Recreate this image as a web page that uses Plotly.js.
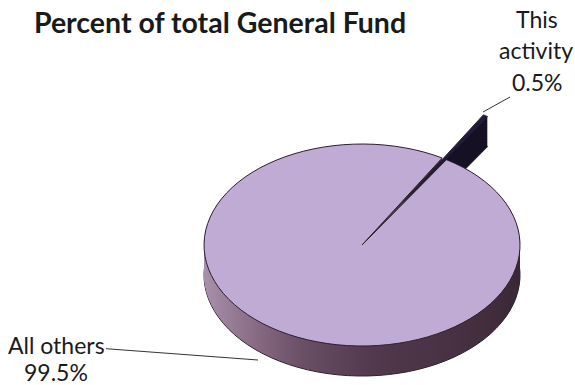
<!DOCTYPE html>
<html><head><meta charset="utf-8">
<script src="https://cdn.plot.ly/plotly-3.0.1.min.js"></script>
<style>html,body{margin:0;padding:0;background:#fff}#chart{width:575px;height:385px}</style>
</head><body><div id="chart"></div>
<script>
// ---- data ----
const labels = ['This activity', 'All others'];
const values = [0.5, 99.5];
const percentLabels = ['0.5%', '99.5%'];
const pulls = [0.5, 0];
const titleText = 'Percent of total General Fund';

// ---- styles ----
const topColors = ['#221b38', '#c0abd4'];
const sideColors = ['#151024', '#6a4f65'];
const depthSteps = [];
for (let d = 30; d >= 0.5; d -= 0.75) depthSteps.push(d);
const RX = 158, RY = 101;
const FONT = 'Lato, "Open Sans", sans-serif';
const sideStops = [[0, '#a890ab'], [0.17, '#876982'], [0.31, '#6a4f65'], [0.53, '#52394d'], [0.88, '#432e3e'], [1, '#3a2735']];

const domain = {x: [0.45, 0.8092], y: [0.0945, 0.6327]};
function pieTrace(colors, line) {
  return {
    type: 'pie', labels: labels, values: values, sort: false,
    direction: 'clockwise', rotation: 30.5, pull: pulls,
    textinfo: 'none', hoverinfo: 'skip', showlegend: false,
    domain: domain, marker: {colors: colors, line: line}
  };
}
const traces = depthSteps.map((d, i) => pieTrace(sideColors,
  i === 0 ? {color: '#2a1f2a', width: 1} : {color: 'rgba(0,0,0,0)', width: 0}));
traces.push(pieTrace(topColors, {color: '#2a2030', width: 1}));

const W = 575, H = 385;
const px = x => x / W, py = y => 1 - y / H;
const txt = {family: FONT, size: 23, color: '#1a1a1a'};
const plain = (t, x, y) => ({text: t, xref: 'paper', yref: 'paper', x: px(x), y: py(y),
  xanchor: 'center', yanchor: 'middle', showarrow: false, font: txt});

const layout = {
  width: W, height: H, margin: {l: 0, r: 0, t: 0, b: 0},
  paper_bgcolor: '#ffffff', showlegend: false,
  title: {text: '<b>' + titleText + '</b>', font: {family: FONT, size: 28.5, color: '#1a1a1a'},
          x: px(220), xanchor: 'center', y: py(23), yanchor: 'middle'},
  annotations: [
    plain('This', 537, 19),
    plain('activity', 536, 50),
    {text: percentLabels[0], xref: 'paper', yref: 'paper', x: px(483), y: py(112),
     xanchor: 'center', yanchor: 'middle',
     showarrow: true, arrowhead: 0, arrowwidth: 1, arrowcolor: '#333', ax: 54, ay: -30, font: txt},
    {text: labels[1], xref: 'paper', yref: 'paper', x: px(258), y: py(360),
     xanchor: 'center', yanchor: 'middle',
     showarrow: true, arrowhead: 0, arrowwidth: 1, arrowcolor: '#333', ax: -202, ay: -15, font: txt},
    plain(percentLabels[1], 56, 372)
  ]
};

Plotly.newPlot('chart', traces, layout, {staticPlot: true}).then(gd => {
  const NS = 'http://www.w3.org/2000/svg';
  const svg = gd.querySelector('svg.main-svg');
  let defs = svg.querySelector('defs');
  if (!defs) { defs = document.createElementNS(NS, 'defs'); svg.insertBefore(defs, svg.firstChild); }
  const lg = document.createElementNS(NS, 'linearGradient');
  lg.setAttribute('id', 'sideGrad');
  lg.setAttribute('x1', '0'); lg.setAttribute('y1', '0'); lg.setAttribute('x2', '1'); lg.setAttribute('y2', '0');
  sideStops.forEach(s => {
    const st = document.createElementNS(NS, 'stop');
    st.setAttribute('offset', s[0]); st.setAttribute('stop-color', s[1]);
    lg.appendChild(st);
  });
  defs.appendChild(lg);

  const groups = gd.querySelectorAll('.pielayer g.trace');
  const top = groups[groups.length - 1];
  let best = null;
  top.querySelectorAll('path.surface').forEach(p => {
    const b = p.getBBox();
    if (!best || b.width > best.width) best = b;
  });
  const r = best.width / 2, cx = best.x + r, cy = best.y + best.height / 2;
  const sx = RX / r, sy = RY / r;
  groups.forEach((g, i) => {
    const isSide = i < depthSteps.length;
    const d = isSide ? depthSteps[i] : 0;
    g.setAttribute('transform',
      'translate(' + cx + ',' + (cy + d) + ') scale(' + sx + ',' + sy + ') translate(' + (-cx) + ',' + (-cy) + ')');
    const paths = g.querySelectorAll('path.surface');
    paths.forEach(p => p.style.vectorEffect = 'non-scaling-stroke');
    if (isSide && paths[1]) paths[1].style.fill = 'url(#sideGrad)';
  });
});
</script>
</body></html>
